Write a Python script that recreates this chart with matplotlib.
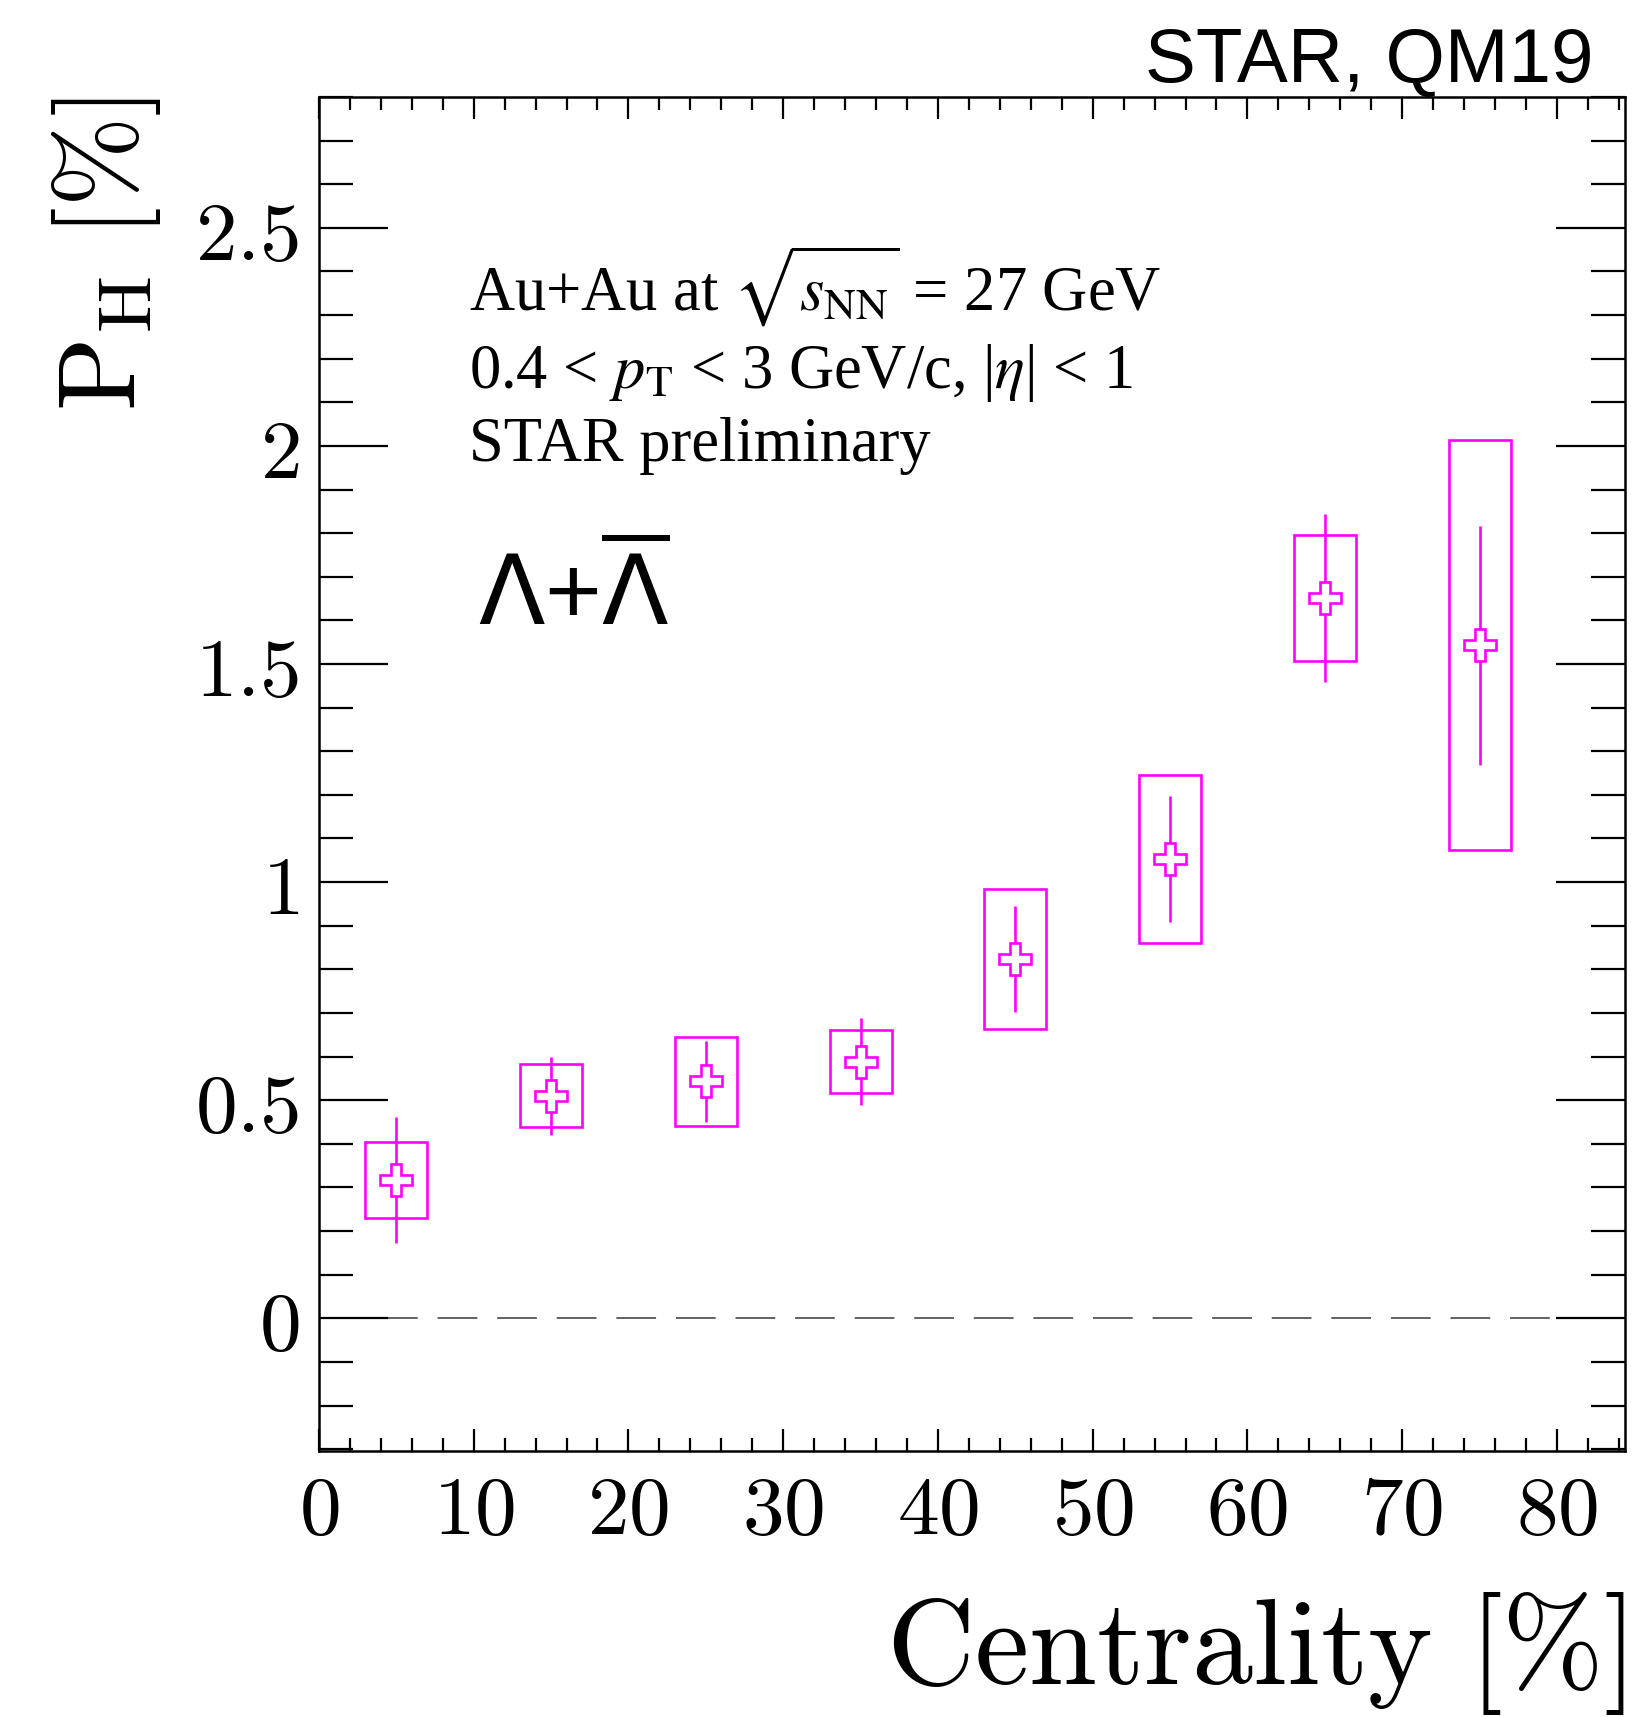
import matplotlib
matplotlib.use("Agg")
import matplotlib.pyplot as plt
from matplotlib.patches import Rectangle
from matplotlib.ticker import MultipleLocator, FuncFormatter

# centrality bins [%] and global Lambda polarization [%]
centrality = [5, 15, 25, 35, 45, 55, 65, 75]
bin_half_width = [2, 2, 2, 2, 2, 2, 2, 2]
pol = [0.317, 0.510, 0.543, 0.588, 0.824, 1.053, 1.651, 1.543]
stat_err = [0.145, 0.090, 0.093, 0.100, 0.122, 0.145, 0.193, 0.274]
sys_err = [0.088, 0.072, 0.103, 0.072, 0.160, 0.193, 0.145, 0.470]

zero_line_x = [3.8, 80.6]

MAGENTA = "#ff00ff"

plt.rcParams["mathtext.fontset"] = "cm"

fig = plt.figure(figsize=(16.34, 17.17), dpi=100)
ax = fig.add_axes([0.1952, 0.155, 0.7993, 0.7885])

ax.plot(zero_line_x, [0, 0], color="#555555", lw=1.3,
        linestyle=(0, (22, 11)), zorder=1)

for x, hw, y, se, sy in zip(centrality, bin_half_width, pol, stat_err, sys_err):
    ax.add_patch(Rectangle((x - hw, y - sy), 2 * hw, 2 * sy, fill=False,
                           edgecolor=MAGENTA, lw=1.9, zorder=2))

ax.errorbar(centrality, pol, yerr=stat_err, fmt="none", ecolor=MAGENTA,
            elinewidth=1.9, capsize=0, zorder=3)
ax.plot(centrality, pol, linestyle="none", marker="P", markersize=23,
        markerfacecolor="white", markeredgecolor=MAGENTA,
        markeredgewidth=1.9, zorder=4)

ax.set_xlim(0, 84.4)
ax.set_ylim(-0.304, 2.80)

ax.xaxis.set_major_locator(MultipleLocator(10))
ax.xaxis.set_minor_locator(MultipleLocator(2))
ax.yaxis.set_major_locator(MultipleLocator(0.5))
ax.yaxis.set_minor_locator(MultipleLocator(0.1))
fmt = FuncFormatter(lambda v, p: "$%g$" % round(v, 2))
ax.xaxis.set_major_formatter(fmt)
ax.yaxis.set_major_formatter(fmt)

ax.tick_params(axis="both", which="both", direction="in", top=True, right=True,
               width=1.6, labelsize=60)
ax.tick_params(axis="x", which="major", length=16, pad=14)
ax.tick_params(axis="x", which="minor", length=9.5)
ax.tick_params(axis="y", which="major", length=50, pad=14)
ax.tick_params(axis="y", which="minor", length=24.5)
for s in ax.spines.values():
    s.set_linewidth(1.8)

fig.text(0.9945, 0.0195, r"$\mathrm{Centrality\ [\%]}$", ha="right",
         va="baseline", fontsize=88)
fig.text(0.065, 0.9435, r"$\mathrm{P_H\ [\%]}$", rotation=90, ha="center",
         va="top", fontsize=78)

fig.text(0.9755, 0.953, "STAR, QM19", ha="right", va="baseline",
         fontsize=55, family="Liberation Sans")

info = ax.transAxes
ax.text(0.1147, 0.842, r"Au+Au at $\sqrt{s_{\rm NN}}$ = 27 GeV",
        transform=info, fontsize=45, family="Liberation Serif",
        math_fontfamily="stix", va="baseline")
ax.text(0.1147, 0.785, r"0.4 < $p_{\rm T}$ < 3 GeV/c, |$\eta$| < 1",
        transform=info, fontsize=45, family="Liberation Serif",
        math_fontfamily="stix", va="baseline")
ax.text(0.1147, 0.731, "STAR preliminary",
        transform=info, fontsize=45, family="Liberation Serif", va="baseline")
ax.text(0.122, 0.610, r"$\Lambda$+$\overline{\Lambda}$", transform=info,
        fontsize=70, family="Liberation Sans", math_fontfamily="dejavusans",
        va="baseline")

fig.savefig("out.png", dpi=100)
